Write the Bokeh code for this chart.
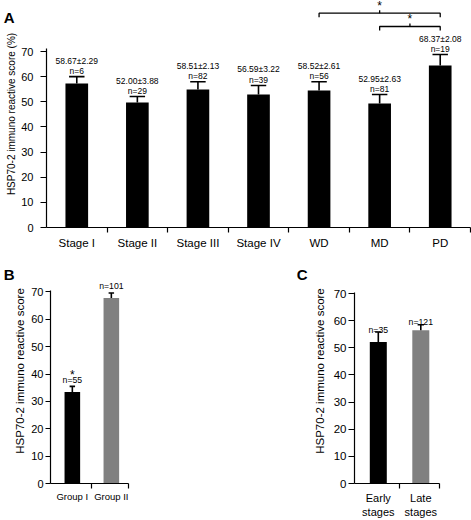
from bokeh.plotting import figure
from bokeh.layouts import column, row
from bokeh.models import Range1d, FixedTicker, LinearAxis
from bokeh.core.properties import value
from bokeh.embed import file_html
from bokeh.resources import INLINE

FONT = "Liberation Sans"

# ---------------- data ----------------
# Panel A
a_categories = ["Stage I", "Stage II", "Stage III", "Stage IV", "WD", "MD", "PD"]
a_means = [57.3, 49.7, 54.9, 52.9, 54.5, 49.3, 64.4]
a_errors = [2.7, 2.4, 3.1, 3.6, 3.5, 3.6, 4.4]
a_stat_labels = ["58.67±2.29", "52.00±3.88", "58.51±2.13", "56.59±3.22",
                 "58.52±2.61", "52.95±2.63", "68.37±2.08"]
a_n_labels = ["n=6", "n=29", "n=82", "n=39", "n=56", "n=81", "n=19"]
a_comparisons = [("WD", "PD"), ("MD", "PD")]
y_ticks = [0, 10, 20, 30, 40, 50, 60, 70]

# Panel B
b_categories = ["Group I", "Group II"]
b_means = [33.4, 67.75]
b_errors = [2.1, 1.85]
b_n_labels = ["n=55", "n=101"]
b_marks = ["*", ""]
b_colors = ["#000000", "#808080"]

# Panel C
c_categories = ["Early\nstages", "Late\nstages"]
c_means = [52.1, 56.5]
c_errors = [3.7, 2.0]
c_n_labels = ["n=35", "n=121"]
c_colors = ["#000000", "#808080"]


def make_fig(width, height, left, right, top, bottom, xr, yr):
    p = figure(width=width, height=height, x_range=xr, y_range=yr,
               output_backend="svg", toolbar_location=None,
               min_border_left=left, min_border_right=right,
               min_border_top=top, min_border_bottom=bottom)
    p.outline_line_color = None
    p.xgrid.visible = False
    p.ygrid.visible = False
    p.background_fill_color = "white"
    p.border_fill_color = "white"
    return p


def style_axes(p, cats, x_end, tick_font, xlab_font, xlab_standoff,
               ylab, ylab_font, ylab_standoff, y_bounds, ytick_standoff, ytick_out):
    centers = [i + 0.5 for i in range(len(cats))]
    bounds = [i + 1 for i in range(len(cats) - 1)] + [x_end]
    xa = p.xaxis[0]
    xa.ticker = FixedTicker(ticks=centers, minor_ticks=bounds)
    xa.major_label_overrides = {float(c): lab for c, lab in zip(centers, cats)}
    xa.major_tick_line_color = None
    xa.major_tick_out = 0
    xa.major_tick_in = 0
    xa.minor_tick_out = 5
    xa.minor_tick_in = 0
    xa.minor_tick_line_color = "black"
    xa.minor_tick_line_width = 1.2
    xa.axis_line_width = 1.2
    xa.axis_line_color = "black"
    xa.major_label_text_font = FONT
    xa.major_label_text_font_size = xlab_font
    xa.major_label_text_color = "black"
    xa.major_label_standoff = xlab_standoff

    ya = p.yaxis[0]
    ya.ticker = FixedTicker(ticks=y_ticks, minor_ticks=[])
    ya.bounds = y_bounds
    ya.major_tick_out = ytick_out
    ya.major_tick_in = 0
    ya.major_tick_line_width = 1.2
    ya.major_tick_line_color = "black"
    ya.minor_tick_line_color = None
    ya.axis_line_width = 1.2
    ya.axis_line_color = "black"
    ya.major_label_text_font = FONT
    ya.major_label_text_font_size = tick_font
    ya.major_label_text_color = "black"
    ya.major_label_standoff = ytick_standoff
    ya.axis_label = ylab
    ya.axis_label_text_font = FONT
    ya.axis_label_text_font_size = ylab_font
    ya.axis_label_text_font_style = "normal"
    ya.axis_label_text_color = "black"
    ya.axis_label_standoff = ylab_standoff
    return centers


def draw_bars(p, centers, means, errors, colors, bar_w, cap_w):
    tops = [m + e for m, e in zip(means, errors)]
    p.vbar(x=centers, top=means, bottom=0, width=bar_w, fill_color=colors,
           line_color=None)
    p.segment(x0=centers, y0=means, x1=centers, y1=tops,
              line_color="black", line_width=1.6)
    p.segment(x0=[c - cap_w / 2 for c in centers], y0=tops,
              x1=[c + cap_w / 2 for c in centers], y1=tops,
              line_color="black", line_width=1.6)
    return tops


def put_text(p, xs, ys, texts, size, yoff):
    p.text(x=xs, y=ys, text=texts, text_font=value(FONT), text_font_size=size,
           text_align="center", text_baseline="middle", y_offset=yoff,
           text_color="black")


def panel_letter(p, letter, y_pos, standoff):
    # panel letter drawn as the single tick label of an extra, line-less left axis
    ax = LinearAxis(ticker=FixedTicker(ticks=[y_pos], minor_ticks=[]),
                    major_label_overrides={y_pos: letter},
                    axis_line_color=None, major_tick_line_color=None,
                    minor_tick_line_color=None, major_tick_out=0, major_tick_in=0,
                    major_label_standoff=standoff,
                    major_label_text_font=FONT, major_label_text_font_size="15px",
                    major_label_text_font_style="bold", major_label_text_color="black")
    p.add_layout(ax, "left")


# ---------------- Panel A ----------------
pA = make_fig(471, 258, 39, 1, 0, 31, Range1d(0, 7), Range1d(0, 90.29))
a_centers = style_axes(pA, a_categories, 7, "11px", "11.5px", 4,
                       "HSP70-2 immuno reactive score (%)", "10px", 1,
                       (0, 71.2), 7, 6)
a_tops = draw_bars(pA, a_centers, a_means, a_errors,
                   ["#000000"] * len(a_categories), 0.374, 0.255)
put_text(pA, a_centers, a_tops, a_n_labels, "8.5px", -5.5)
put_text(pA, a_centers, a_tops, a_stat_labels, "8.5px", -16)

bracket_levels = [85.24, 79.95]
for (c0, c1), lvl in zip(a_comparisons, bracket_levels):
    x0 = a_centers[a_categories.index(c0)]
    x1 = a_centers[a_categories.index(c1)]
    xm = (x0 + x1) / 2
    pA.line(x=[x0, x0, x1, x1], y=[lvl - 1.6, lvl, lvl, lvl - 1.6],
            line_color="black", line_width=1.3)
    pA.segment(x0=[xm], y0=[lvl], x1=[xm], y1=[lvl + 1.2],
               line_color="black", line_width=1.3)
    put_text(pA, [xm], [lvl], ["*"], "12px", -7)

panel_letter(pA, "A", 83.45, -11)

# ---------------- Panel B ----------------
pB = make_fig(200, 262, 43, 72, 0, 31, Range1d(-0.06, 1.94), Range1d(0, 82.2))
b_centers = style_axes(pB, b_categories, 1.94, "11px", "9.5px", 2,
                       "HSP70-2 immuno reactive score", "11.5px", 2,
                       (0, 70.5), 2, 5)
b_tops = draw_bars(pB, b_centers, b_means, b_errors, b_colors, 0.4, 0.14)
put_text(pB, b_centers, b_tops, b_n_labels, "8.7px", -6.5)
put_text(pB, b_centers, b_tops, b_marks, "12px", -11)
panel_letter(pB, "B", 76.4, -3)

# ---------------- Panel C ----------------
pC = make_fig(271, 262, 154, 32, 0, 31, Range1d(-0.06, 1.94), Range1d(0, 82.9))
c_centers = style_axes(pC, c_categories, 1.94, "11.5px", "11px", 3,
                       "HSP70-2 immuno reactive score", "11.5px", 5,
                       (0, 70.5), 2, 6)
c_tops = draw_bars(pC, c_centers, c_means, c_errors, c_colors, 0.4, 0.15)
put_text(pC, c_centers, c_tops, c_n_labels, "8.7px", -2.5)
panel_letter(pC, "C", 77.1, 3)

layout = column(pA, row(pB, pC, spacing=0), spacing=0)
open("out.html", "w").write(file_html(layout, INLINE))
